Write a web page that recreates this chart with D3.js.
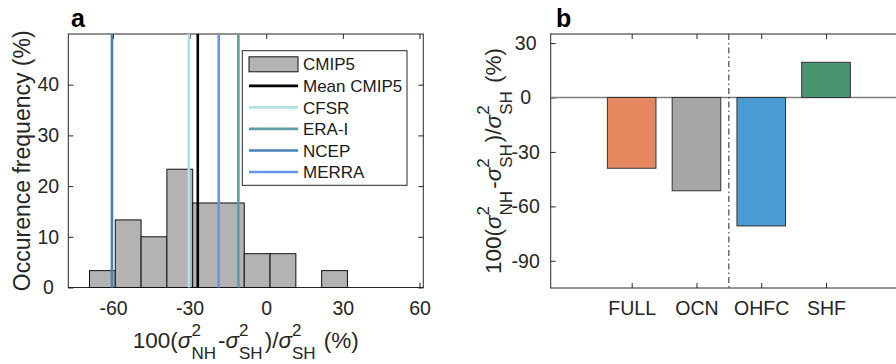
<!DOCTYPE html>
<html>
<head>
<meta charset="utf-8">
<script src="https://cdn.jsdelivr.net/npm/d3@7"></script>
<style>
  body { margin: 0; background: #fff; }
  text { font-family: "Liberation Sans", Arial, sans-serif; fill: #262626; }
  .tick text { font-size: 19.5px; }
  .legend text { font-size: 17px; fill: #1a1a1a; }
  .panel { font-size: 25px; font-weight: bold; fill: #000; }
</style>
</head>
<body>
<script>
// panel a: CMIP5 histogram (percent of models per bin) + reanalyses
var binEdges = [-69.2, -59.1, -49.0, -38.9, -28.8, -18.7, -8.6, 1.5, 11.6, 21.7, 31.8];
var binFreq = [3.33, 13.33, 10, 23.33, 16.67, 16.67, 6.67, 6.67, 0, 3.33];
var refNames = ["Mean CMIP5", "CFSR", "ERA-I", "NCEP", "MERRA"];
var refValues = [-26.8, -30.3, -10.9, -60.4, -18.6];
var refColors = ["#000000", "#b0e0e6", "#5f9ea0", "#4682b4", "#6495ed"];
var xTicksA = [-60, -30, 0, 30, 60];
var yTicksA = [0, 10, 20, 30, 40];

// panel b: NH/SH variance ratio by component
var components = ["FULL", "OCN", "OHFC", "SHF"];
var compValues = [-39, -51.4, -70.8, 19.4];
var compColors = ["#e5885f", "#a6a6a6", "#4b9bd3", "#4a9470"];
var yTicksB = [30, 0, -30, -60, -90];

var W = 896, H = 364;
var axisColor = "#262626";

var svg = d3.select("body").append("svg")
    .attr("width", W)
    .attr("height", H);

// sigma label with stacked super/subscripts, centred on (0,0) baseline
var sigmaLabel = [
  {t: "100("}, {t: "σ", it: true}, {sup: "2", sub: "NH"},
  {t: "-"}, {t: "σ", it: true}, {sup: "2", sub: "SH"},
  {t: ")/"}, {t: "σ", it: true}, {sup: "2", sub: "SH"},
  {t: " (%)"}
];

function texLabel(g, parts) {
  var x = 0;
  parts.forEach(function(p) {
    if (p.t !== undefined) {
      var t = g.append("text")
          .attr("x", x).attr("y", 0)
          .style("font-size", "22.5px")
          .style("font-style", p.it ? "italic" : "normal")
          .style("white-space", "pre")
          .text(p.t);
      x += t.node().getComputedTextLength();
    } else {
      var a = g.append("text").attr("x", x).attr("y", -12)
          .style("font-size", "17px").text(p.sup);
      var b = g.append("text").attr("x", x).attr("y", 11)
          .style("font-size", "17px").text(p.sub);
      x += Math.max(a.node().getComputedTextLength(), b.node().getComputedTextLength()) + 2;
    }
  });
  g.selectAll("text").attr("x", function() { return +d3.select(this).attr("x") - x / 2; });
}

function styleAxis(g) {
  g.select(".domain").remove();
  g.selectAll(".tick line").attr("stroke", axisColor);
  g.selectAll(".tick text").attr("fill", null);
}

function plain(d) { return String(d); }

// ---------------- panel a ----------------
var ax = {left: 68.3, right: 423.3, top: 34, bottom: 287.5};

var xA = d3.scaleLinear().domain([-77.5, 61.5]).range([ax.left, ax.right]);
var yA = d3.scaleLinear().domain([0, 50]).range([ax.bottom, ax.top]);

var gA = svg.append("g");

gA.append("g")
    .attr("transform", "translate(0," + ax.bottom + ")")
    .call(d3.axisBottom(xA).tickValues(xTicksA).tickFormat(plain).tickSize(-5).tickSizeOuter(0).tickPadding(13.5))
    .call(styleAxis);
gA.append("g")
    .attr("transform", "translate(0," + ax.top + ")")
    .call(d3.axisTop(xA).tickValues(xTicksA).tickSize(-5).tickSizeOuter(0).tickFormat(""))
    .call(styleAxis);
gA.append("g")
    .attr("transform", "translate(" + ax.left + ",0)")
    .call(d3.axisLeft(yA).tickValues(yTicksA).tickFormat(plain).tickSize(-5).tickSizeOuter(0))
    .call(styleAxis)
    .selectAll(".tick text").attr("text-anchor", "middle").attr("x", -20);
gA.append("g")
    .attr("transform", "translate(" + ax.right + ",0)")
    .call(d3.axisRight(yA).tickValues(yTicksA).tickSize(-5).tickSizeOuter(0).tickFormat(""))
    .call(styleAxis);

gA.append("rect")
    .attr("x", ax.left).attr("y", ax.top)
    .attr("width", ax.right - ax.left).attr("height", ax.bottom - ax.top)
    .attr("fill", "none").attr("stroke", axisColor).attr("stroke-width", 1);

// histogram bars
gA.selectAll(".bin")
    .data(binFreq)
  .enter().append("rect")
    .attr("class", "bin")
    .attr("x", function(d, i) { return xA(binEdges[i]); })
    .attr("width", function(d, i) { return xA(binEdges[i + 1]) - xA(binEdges[i]); })
    .attr("y", function(d) { return yA(d); })
    .attr("height", function(d) { return yA(0) - yA(d); })
    .attr("fill", "#b3b3b3")
    .attr("stroke", "#111")
    .attr("stroke-width", 1);

// mean + reanalysis lines
gA.selectAll(".ref")
    .data(refValues)
  .enter().append("line")
    .attr("class", "ref")
    .attr("x1", function(d) { return xA(d); })
    .attr("x2", function(d) { return xA(d); })
    .attr("y1", yA(50))
    .attr("y2", yA(0))
    .attr("stroke", function(d, i) { return refColors[i]; })
    .attr("stroke-width", 2.6);

// legend
var leg = gA.append("g").attr("class", "legend");
leg.append("rect")
    .attr("x", 242.3).attr("y", 50.7).attr("width", 164.7).attr("height", 134.6)
    .attr("fill", "#fff").attr("stroke", axisColor).attr("stroke-width", 1);

var legNames = ["CMIP5"].concat(refNames);
var legRow = d3.scalePoint().domain(legNames).range([64.3, 172]);

leg.append("rect")
    .attr("x", 249).attr("y", legRow("CMIP5") - 7.5)
    .attr("width", 49).attr("height", 15)
    .attr("fill", "#b3b3b3").attr("stroke", "#111");
leg.selectAll(".legline")
    .data(refNames)
  .enter().append("line")
    .attr("x1", 249).attr("x2", 298)
    .attr("y1", function(d) { return legRow(d); })
    .attr("y2", function(d) { return legRow(d); })
    .attr("stroke", function(d, i) { return refColors[i]; })
    .attr("stroke-width", 2.6);
leg.selectAll(".legtext")
    .data(legNames)
  .enter().append("text")
    .attr("x", 303)
    .attr("y", function(d) { return legRow(d); })
    .attr("dy", "0.36em")
    .text(function(d) { return d; });

// axis labels
gA.append("text")
    .attr("transform", "translate(30," + ((ax.top + ax.bottom) / 2) + ") rotate(-90)")
    .attr("text-anchor", "middle")
    .style("font-size", "23px")
    .text("Occurence frequency (%)");

texLabel(gA.append("g").attr("transform", "translate(" + ((ax.left + ax.right) / 2) + ",347.5)"), sigmaLabel);

gA.append("text").attr("class", "panel").attr("x", 71).attr("y", 26.5).text("a");

// ---------------- panel b ----------------
var bx = {left: 550.7, right: 907, top: 34, bottom: 288};

var xB = d3.scaleLinear().domain([-0.25, 5.25]).range([bx.left, bx.right]);
var yB = d3.scaleLinear().domain([-105, 35]).range([bx.bottom, bx.top]);
var barW = 0.75;
var catPos = components.map(function(d, i) { return i + 1; });

var gB = svg.append("g");

gB.append("g")
    .attr("transform", "translate(0," + bx.bottom + ")")
    .call(d3.axisBottom(xB).tickValues(catPos).tickSize(-5).tickSizeOuter(0).tickPadding(13)
      .tickFormat(function(d) { return components[d - 1]; }))
    .call(styleAxis);
gB.append("g")
    .attr("transform", "translate(0," + bx.top + ")")
    .call(d3.axisTop(xB).tickValues(catPos).tickSize(-5).tickSizeOuter(0).tickFormat(""))
    .call(styleAxis);
gB.append("g")
    .attr("transform", "translate(" + bx.left + ",0)")
    .call(d3.axisLeft(yB).tickValues(yTicksB).tickFormat(plain).tickSize(-5).tickSizeOuter(0))
    .call(styleAxis)
    .selectAll(".tick text").attr("text-anchor", "middle").attr("x", -25);

gB.append("rect")
    .attr("x", bx.left).attr("y", bx.top)
    .attr("width", bx.right - bx.left).attr("height", bx.bottom - bx.top)
    .attr("fill", "none").attr("stroke", axisColor).attr("stroke-width", 1);

// zero line
gB.append("line")
    .attr("x1", bx.left).attr("x2", bx.right)
    .attr("y1", yB(0)).attr("y2", yB(0))
    .attr("stroke", "#808080").attr("stroke-width", 1.5);

// separator between full/ocean and decomposition
gB.append("line")
    .attr("x1", xB(2.5)).attr("x2", xB(2.5))
    .attr("y1", yB(35)).attr("y2", yB(-105))
    .attr("stroke", "#222").attr("stroke-width", 1)
    .attr("stroke-dasharray", "6,3,1.5,3");

gB.selectAll(".bar")
    .data(compValues)
  .enter().append("rect")
    .attr("class", "bar")
    .attr("x", function(d, i) { return xB(catPos[i] - barW / 2); })
    .attr("width", xB(barW) - xB(0))
    .attr("y", function(d) { return yB(Math.max(d, 0)); })
    .attr("height", function(d) { return Math.abs(yB(d) - yB(0)); })
    .attr("fill", function(d, i) { return compColors[i]; })
    .attr("stroke", "#333")
    .attr("stroke-width", 1);

texLabel(gB.append("g").attr("transform", "translate(501.3," + ((bx.top + bx.bottom) / 2) + ") rotate(-90)"), sigmaLabel);

gB.append("text").attr("class", "panel").attr("x", 556).attr("y", 26.5).text("b");
</script>
</body>
</html>
